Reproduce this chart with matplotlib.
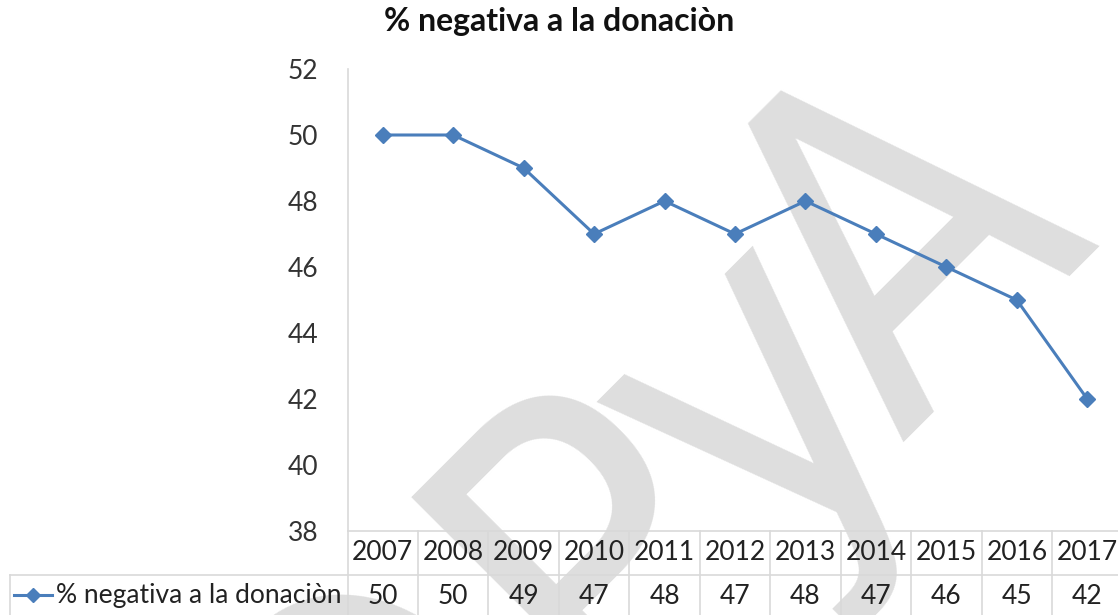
import numpy as np
import matplotlib
matplotlib.use("Agg")
import matplotlib.pyplot as plt
import matplotlib.transforms as mtransforms
from matplotlib import font_manager

# data
years = ["2007", "2008", "2009", "2010", "2011", "2012",
         "2013", "2014", "2015", "2016", "2017"]
values = [50, 50, 49, 47, 48, 47, 48, 47, 46, 45, 42]
series_name = "% negativa a la donaciòn"
title = "% negativa a la donaciòn"
yticks = [38, 40, 42, 44, 46, 48, 50, 52]

# watermark letters and their offset along the slanted baseline (px)
wm_letters = ["O", "P", "y", "A"]
wm_offsets = [-790, -452, -234, -38]

plt.rcParams["font.family"] = ["Lato", "DejaVu Sans"]

W, H = 1118, 615
blue = "#4a7ebb"
grid = "#d9d9d9"
txt = "#222222"


def fx(px):
    return px / W


def fy(py):
    return 1 - py / H


# narrowest installed sans face for the watermark, if any
narrow = [f for f in font_manager.fontManager.ttflist
          if f.stretch in ("condensed", "semi-condensed", "extra-condensed",
                           "ultra-condensed")
          and f.style == "normal" and f.weight in (400, "normal", "regular")
          and "Mono" not in f.name and "Serif" not in f.name]
if narrow:
    wm_prop = font_manager.FontProperties(fname=narrow[0].fname, size=332)
else:
    wm_prop = font_manager.FontProperties(family="Liberation Sans", size=332)

fig = plt.figure(figsize=(W / 100, H / 100), dpi=100)

# watermark, drawn first so everything sits on top of it
ox, oy = 928, H - 415
for letter, off in zip(wm_letters, wm_offsets):
    px = ox + off * 0.7071
    py = oy + off * 0.7071
    fig.text(px / W, py / H, letter, rotation=45, rotation_mode="anchor",
             ha="left", va="baseline", fontproperties=wm_prop,
             color="#dedede", zorder=-5)

ax = fig.add_axes([fx(347.5), fy(531), (1122.5 - 347.5) / W, fy(69) - fy(531)])
ax.set_facecolor("none")

x = np.arange(len(years))
ax.plot(x, values, color=blue, lw=2.2, marker="D", ms=8.5,
        mfc=blue, mec=blue, zorder=3)

ax.set_xlim(-0.5, len(years) - 0.5)
ax.set_ylim(38, 52)
ax.set_yticks(yticks)
ax.set_xticks([])
ax.tick_params(axis="y", length=0, pad=21, labelsize=19, labelcolor="#333333")
for s in ["top", "right"]:
    ax.spines[s].set_visible(False)
for s in ["left", "bottom"]:
    ax.spines[s].set_color(grid)
    ax.spines[s].set_linewidth(1.2)

# data table under the axis
tr = mtransforms.blended_transform_factory(ax.transData, fig.transFigure)
for b in np.arange(len(years) + 1) - 0.5:
    ax.plot([b, b], [fy(531), 0], transform=tr, color=grid, lw=1.2,
            clip_on=False)
ax.plot([fx(10), 1], [fy(575), fy(575)], transform=fig.transFigure,
        color=grid, lw=1.2, clip_on=False)
ax.plot([fx(10), fx(10)], [fy(575), 0], transform=fig.transFigure,
        color=grid, lw=1.2, clip_on=False)

for i, (yr, v) in enumerate(zip(years, values)):
    ax.text(i, fy(553), yr, transform=tr, ha="center", va="center",
            fontsize=19, color=txt)
    ax.text(i, fy(596), str(v), transform=tr, ha="center", va="center",
            fontsize=19, color=txt)

# legend key in the first table cell
ax.plot([fx(14), fx(52)], [fy(595), fy(595)], transform=fig.transFigure,
        color=blue, lw=2.2, clip_on=False)
ax.plot([fx(33)], [fy(595)], transform=fig.transFigure, marker="D", ms=7,
        color=blue, clip_on=False)
ax.text(fx(56), fy(596), series_name, transform=fig.transFigure,
        ha="left", va="center", fontsize=19, color=txt)

fig.text(0.5, fy(22), title, ha="center", va="center", fontsize=23,
         weight="bold", color="#111111")

fig.savefig("out.png", dpi=100)
